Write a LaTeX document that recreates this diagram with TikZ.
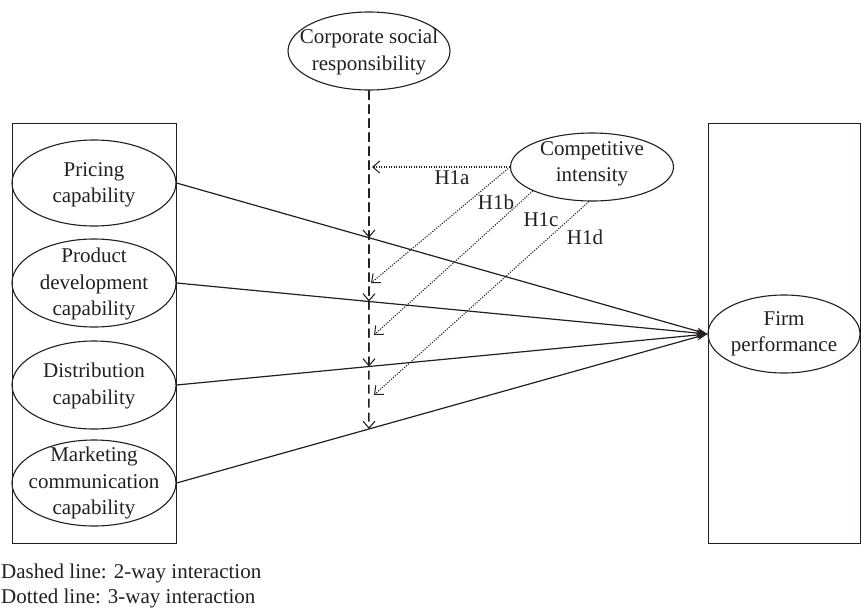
\documentclass[tikz,border=0pt]{standalone}
\usepackage{fontspec}
\setmainfont{Liberation Serif}
\usetikzlibrary{shapes.geometric,arrows.meta,calc}
\definecolor{ink}{HTML}{231F20}
\begin{document}
\begin{tikzpicture}[x=1pt,y=-1pt,
  every node/.style={font=\fontsize{21}{26.5}\selectfont, text=ink},
  ell/.style={ellipse,draw=ink,line width=1.1pt,inner sep=0pt},
  lbl/.style={align=center,inner sep=0pt},
  frame/.style={draw=ink,line width=1.2pt,inner sep=0pt},
  mainarrow/.style={draw=ink,line width=1.2pt,-{Stealth[length=11pt,width=7pt]}},
  twoway/.style={draw=ink,line width=1.5pt,dash pattern=on 9pt off 5pt,-{Straight Barb[length=7pt,width=12pt,line width=1.1pt]}},
  threeway/.style={draw=ink,line width=1.1pt,dash pattern=on 1.1pt off 1.4pt,-{Straight Barb[length=7pt,width=12pt,line width=1pt]}}
]
\useasboundingbox (0,0) rectangle (861,608);

% frames
\node[frame, minimum width=164, minimum height=420, anchor=north west] (lbox) at (12,123) {};
\node[frame, minimum width=152, minimum height=420, anchor=north west] (rbox) at (708,123) {};

% left ellipses
\node[ell, minimum width=164, minimum height=86] (pr) at (94,183) {};
\node[lbl] (prt) at (94,185) {Pricing\\capability};
\node[ell, minimum width=164, minimum height=88] (pd) at (94,283) {};
\node[lbl] (pdt) at (94,284) {Product\\development\\capability};
\node[ell, minimum width=164, minimum height=88] (di) at (94,385) {};
\node[lbl] (dit) at (94,386) {Distribution\\capability};
\node[ell, minimum width=164, minimum height=86] (mk) at (94,483) {};
\node[lbl] (mkt) at (94,483) {Marketing\\communication\\capability};

% other ellipses
\node[ell, minimum width=162, minimum height=78] (csr) at (369,51) {};
\node[lbl] (csrt) at (369,52) {Corporate social\\responsibility};
\node[ell, minimum width=163, minimum height=68] (ci) at (592,167) {};
\node[lbl] (cit) at (592,164) {Competitive\\intensity};
\node[ell, minimum width=152, minimum height=78] (fp) at (784,334) {};
\node[lbl] (fpt) at (784,334) {Firm\\performance};

% main effects
\draw[mainarrow] (pr.east) -- (fp.west);
\draw[mainarrow] (pd.east) -- (fp.west);
\draw[mainarrow] (di.east) -- (fp.west);
\draw[mainarrow] (mk.east) -- (fp.west);

% two-way interactions
\coordinate (low) at (csr.south |- 0,570);
\coordinate (x1) at (intersection of pr.east--fp.west and csr.south--low);
\coordinate (x2) at (intersection of pd.east--fp.west and csr.south--low);
\coordinate (x3) at (intersection of di.east--fp.west and csr.south--low);
\coordinate (x4) at (intersection of mk.east--fp.west and csr.south--low);
\draw[twoway] (csr.south) -- (x1);
\draw[twoway] (csr.south) -- (x2);
\draw[twoway] (csr.south) -- (x3);
\draw[twoway] (csr.south) -- (x4);

% three-way interactions
\coordinate (ta) at ($(ci.west -| csr.south)+(3,0)$);
\coordinate (tb) at (371,283);
\coordinate (tc) at (374,335);
\coordinate (td) at (374,395);
\draw[threeway] (ci.west) -- (ta);
\draw[threeway] (ci.west) -- (tb);
\draw[threeway] (ci.202) -- (tc);
\draw[threeway] (ci.265) -- (td);

\node[inner sep=0] (h1a) at (452,178) {H1a};
\node[inner sep=0] (h1b) at (496,202) {H1b};
\node[inner sep=0] (h1c) at (541,220) {H1c};
\node[inner sep=0] (h1d) at (585,237) {H1d};

% legend
\node[anchor=base west, inner sep=0] (leg1) at (1,578) {Dashed line: 2-way interaction};
\node[anchor=base west, inner sep=0] (leg2) at (1,603) {Dotted line: 3-way interaction};
\end{tikzpicture}
\end{document}
